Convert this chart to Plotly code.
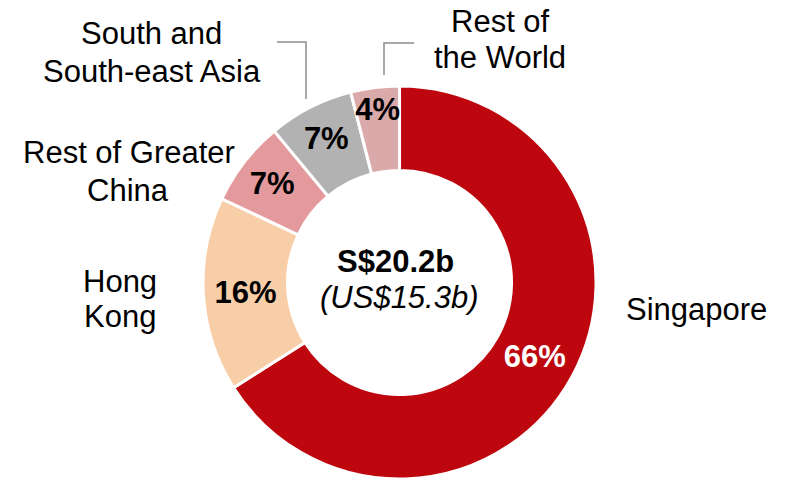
import plotly.graph_objects as go

regions = ["Singapore", "Hong Kong", "Rest of Greater China", "South and South-east Asia", "Rest of the World"]
shares = [66, 16, 7, 7, 4]
slice_colors = ["#BE060E", "#F8CEA8", "#E49A9C", "#B2B2B2", "#DAAAAA"]
text_colors = ["white", "black", "black", "black", "black"]
total_sgd = "S$20.2b"
total_usd = "(US$15.3b)"

FONT = "Liberation Sans, Arial, sans-serif"
W, H = 786, 479
FS = 31

fig = go.Figure()
fig.add_trace(go.Pie(
    labels=regions,
    values=shares,
    sort=False,
    direction="clockwise",
    rotation=0,
    hole=0.57,
    marker=dict(colors=slice_colors, line=dict(color="white", width=3)),
    textinfo="percent",
    texttemplate="<b>%{percent:.0%}</b>",
    textposition="inside",
    insidetextorientation="horizontal",
    insidetextfont=dict(family=FONT, size=FS, color=text_colors),
    hoverinfo="label+percent",
    showlegend=False,
    domain=dict(x=[0.2583, 0.7583], y=[0.0, 0.8205]),
))

def px(x):
    return x / W

def py(y):
    return 1 - y / H

label_lines = [
    ("South and", 151, 34),
    ("South-east Asia", 152, 71),
    ("Rest of Greater", 129, 152),
    ("China", 128, 191),
    ("Hong", 120, 281),
    ("Kong", 120, 316),
    ("Singapore", 696, 309),
    ("Rest of", 500, 22),
    ("the World", 500, 57),
]
for txt, x, y in label_lines:
    fig.add_annotation(text=txt, x=px(x), y=py(y), xref="paper", yref="paper",
                       xanchor="center", yanchor="middle", showarrow=False,
                       font=dict(family=FONT, size=FS, color="black"))

fig.add_annotation(text="<b>" + total_sgd + "</b>", x=px(396), y=py(261), xref="paper", yref="paper",
                   xanchor="center", yanchor="middle", showarrow=False,
                   font=dict(family=FONT, size=FS, color="black"))
fig.add_annotation(text="<i>" + total_usd + "</i>", x=px(399), y=py(297), xref="paper", yref="paper",
                   xanchor="center", yanchor="middle", showarrow=False,
                   font=dict(family=FONT, size=FS, color="black"))

# leader lines
leader = dict(color="#8C8C8C", width=1.5)
fig.add_shape(type="path", xref="paper", yref="paper",
              path=f"M {px(277)} {py(42)} L {px(306)} {py(42)} L {px(306)} {py(99)}",
              line=leader)
fig.add_shape(type="path", xref="paper", yref="paper",
              path=f"M {px(384)} {py(75)} L {px(384)} {py(43)} L {px(414)} {py(43)}",
              line=leader)

fig.update_layout(
    width=W, height=H,
    margin=dict(l=0, r=0, t=0, b=0),
    paper_bgcolor="white",
    plot_bgcolor="white",
    uniformtext=dict(minsize=FS, mode="show"),
)

fig.write_html("out.html", config={"displayModeBar": False},
               post_script="document.body.style.margin='0';document.body.style.overflow='hidden';")
